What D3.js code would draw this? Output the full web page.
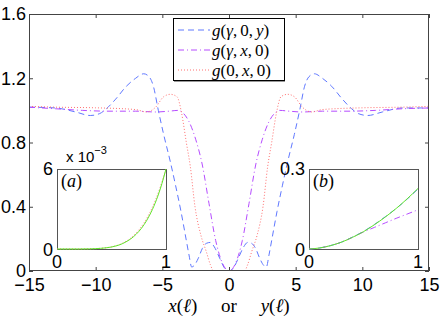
<!DOCTYPE html>
<html>
<head>
<meta charset="utf-8">
<script src="https://cdn.jsdelivr.net/npm/d3@7"></script>
<style>
body { margin: 0; background: #fff; }
svg { display: block; }
</style>
</head>
<body>
<svg id="chart"></svg>
<script>
var screen = {width: 443, height: 316};
var plot = {left: 29, right: 429, top: 14, bottom: 271};

// main panel: g(gamma,0,y)  (blue dashed)
var blueX = [-15, -13, -11.5, -10.4, -9.7, -9.2, -8.5, -7.7, -7, -6.4, -6, -5.67, -5.3, -4.9, -4.4, -4, -3.6, -3.2, -3, -2.8, -2.6, -2.3, -2, -1.7, -1.4, -1.1, -0.7, -0.35, 0,
             0.35, 0.7, 1.1, 1.4, 1.7, 2, 2.3, 2.6, 2.8, 3, 3.2, 3.6, 4, 4.4, 4.9, 5.3, 5.67, 6, 6.4, 7, 7.7, 8.5, 9.2, 9.7, 10.4, 11.5, 13, 15];
var blueY = [1.02, 1.015, 0.99, 0.968, 0.98, 1.01, 1.07, 1.15, 1.2, 1.228, 1.21, 1.15, 1.0, 0.85, 0.68, 0.53, 0.37, 0.19, 0.1, 0.025, 0.035, 0.08, 0.14, 0.172, 0.178, 0.15, 0.08, 0.02, 0,
             0.02, 0.08, 0.15, 0.178, 0.172, 0.14, 0.08, 0.035, 0.025, 0.1, 0.19, 0.37, 0.53, 0.68, 0.85, 1.0, 1.15, 1.21, 1.228, 1.2, 1.15, 1.07, 1.01, 0.98, 0.968, 0.99, 1.015, 1.015];

// g(gamma,x,0)  (purple dash-dot)
var purpleX = [-15, -13, -11, -9, -7, -5.5, -4.5, -3.8, -3.4, -3, -2.5, -2, -1.5, -1, -0.5, 0,
               0.5, 1, 1.5, 2, 2.5, 3, 3.4, 3.8, 4.5, 5.5, 7, 9, 11, 13, 15];
var purpleY = [1.02, 1.01, 1.0, 0.995, 0.995, 0.99, 0.995, 1.0, 0.98, 0.93, 0.82, 0.66, 0.42, 0.19, 0.05, 0,
               0.05, 0.19, 0.42, 0.66, 0.82, 0.93, 0.98, 1.0, 0.995, 0.99, 0.995, 0.995, 1.0, 1.01, 1.015];

// g(0,x,0)  (pink dotted)
var pinkX = [-15, -13, -10, -7, -6.2, -5.5, -4.9, -4.4, -3.9, -3.55, -3.2, -2.9, -2.55, -2.1, -1.7, -1.4, -1.15, 0,
             1.15, 1.4, 1.7, 2.1, 2.55, 2.9, 3.2, 3.55, 3.9, 4.4, 4.9, 5.5, 6.2, 7, 10, 13, 15];
var pinkY = [1.025, 1.02, 1.016, 1.005, 0.99, 1.02, 1.085, 1.1, 1.085, 0.98, 0.8, 0.65, 0.4, 0.22, 0.12, 0.04, 0, 0,
             0, 0.04, 0.12, 0.22, 0.4, 0.65, 0.8, 0.98, 1.085, 1.1, 1.085, 1.02, 0.99, 1.005, 1.016, 1.02, 1.025];

var xTicks = [-15, -10, -5, 0, 5, 10, 15];
var yTicks = [0, 0.4, 0.8, 1.2, 1.6];
var yTickLabels = ["0", "0.4", "0.8", "1.2", "1.6"];

// inset (a), values in units of 1e-3
var tA = [0, 0.1, 0.2, 0.3, 0.4, 0.5, 0.6, 0.7, 0.75, 0.8, 0.85, 0.9, 0.95, 1];
var greenA = [0, 0, 0, 0.01, 0.05, 0.15, 0.4, 0.91, 1.31, 1.84, 2.54, 3.43, 4.57, 6];
var pinkA = [0, 0, 0, 0.01, 0.05, 0.16, 0.43, 0.98, 1.42, 1.98, 2.7, 3.6, 4.7, 6];

// inset (b)
var tB = [0, 0.1, 0.2, 0.3, 0.4, 0.5, 0.6, 0.7, 0.8, 0.9, 1];
var greenB = [0, 0.004, 0.013, 0.026, 0.044, 0.065, 0.091, 0.12, 0.152, 0.188, 0.227];
var blueB = [0, 0.004, 0.013, 0.026, 0.045, 0.066, 0.092, 0.121, 0.152, 0.187, 0.225];
var purpleB = [0, 0.004, 0.013, 0.026, 0.044, 0.064, 0.081, 0.098, 0.115, 0.131, 0.147];

var legendNames = ["g(\u03b3,0,y)", "g(\u03b3,x,0)", "g(0,x,0)"];

var colors = {blue: "#5f78ff", purple: "#b64cff", pink: "#ff7070", green: "#5fe82a"};
var dashes = {blue: "6,4", purple: "6,3,1,3", pink: "1,2", green: null};

var sansFont = "'Liberation Sans', Arial, sans-serif";
var serifFont = "'Liberation Serif', 'DejaVu Serif', serif";

var svg = d3.select("#chart")
    .attr("width", screen.width)
    .attr("height", screen.height);

var xScale = d3.scaleLinear().domain([-15, 15]).range([plot.left, plot.right]);
var yScale = d3.scaleLinear().domain([0, 1.6]).range([plot.bottom, plot.top]);

var zip = function(xs, ys) { return xs.map(function(x, i) { return [x, ys[i]]; }); };

svg.append("clipPath").attr("id", "clipMain")
    .append("rect")
    .attr("x", plot.left).attr("y", plot.top)
    .attr("width", plot.right - plot.left).attr("height", plot.bottom - plot.top);

var drawLine = function(g, pts, xs, ys, key, width) {
    var line = d3.line()
        .x(function(d) { return xs(d[0]); })
        .y(function(d) { return ys(d[1]); })
        .curve(d3.curveMonotoneX);
    g.append("path")
        .datum(pts)
        .attr("fill", "none")
        .attr("stroke", colors[key])
        .attr("stroke-width", width || 1)
        .attr("stroke-dasharray", dashes[key])
        .attr("d", line);
};

// main curves
var curves = svg.append("g").attr("clip-path", "url(#clipMain)");
drawLine(curves, zip(blueX, blueY), xScale, yScale, "blue");
drawLine(curves, zip(purpleX, purpleY), xScale, yScale, "purple");
drawLine(curves, zip(pinkX, pinkY), xScale, yScale, "pink");

// axes, ticks pointing inwards on all four sides
var styleAxis = function(g) {
    g.select(".domain").remove();
    g.selectAll("line").attr("stroke", "#444");
    g.selectAll("text")
        .attr("font-family", sansFont)
        .attr("font-size", 18)
        .attr("fill", "#000");
};

svg.append("g")
    .attr("transform", "translate(0," + plot.bottom + ")")
    .call(d3.axisBottom(xScale).tickValues(xTicks).tickSize(-4).tickPadding(7))
    .call(styleAxis);
svg.append("g")
    .attr("transform", "translate(0," + plot.top + ")")
    .call(d3.axisTop(xScale).tickValues(xTicks).tickSize(-4).tickFormat(""))
    .call(styleAxis);
svg.append("g")
    .attr("transform", "translate(" + plot.left + ",0)")
    .call(d3.axisLeft(yScale).tickValues(yTicks).tickSize(-4).tickPadding(3)
        .tickFormat(function(d, i) { return yTickLabels[i]; }))
    .call(styleAxis);
svg.append("g")
    .attr("transform", "translate(" + plot.right + ",0)")
    .call(d3.axisRight(yScale).tickValues(yTicks).tickSize(-4).tickFormat(""))
    .call(styleAxis);

svg.append("rect")
    .attr("x", plot.left + 0.5).attr("y", plot.top + 0.5)
    .attr("width", plot.right - plot.left - 1).attr("height", plot.bottom - plot.top - 1)
    .attr("fill", "none").attr("stroke", "#444");

// x axis label: x(l)  or  y(l)
var xl = svg.append("text")
    .attr("x", 229).attr("y", 312)
    .attr("text-anchor", "middle")
    .attr("font-family", serifFont)
    .attr("font-size", 19);
xl.append("tspan").attr("font-style", "italic").text("x");
xl.append("tspan").text("(");
xl.append("tspan").attr("font-style", "italic").text("\u2113");
xl.append("tspan").text(")\u2003 or \u2003");
xl.append("tspan").attr("font-style", "italic").text("y");
xl.append("tspan").text("(");
xl.append("tspan").attr("font-style", "italic").text("\u2113");
xl.append("tspan").text(")");

// legend
var legend = svg.append("g").attr("id", "legend");
legend.append("rect")
    .attr("x", 173.5).attr("y", 18.5).attr("width", 111).attr("height", 62)
    .attr("fill", "#fff").attr("stroke", "#000");
legend.append("line")
    .attr("x1", 174).attr("x2", 285).attr("y1", 81.5).attr("y2", 81.5)
    .attr("stroke", "#999");

var legendKeys = ["blue", "purple", "pink"];
var mathText = function(sel, s) {
    var afterComma = false;
    s.split("").forEach(function(ch) {
        var it = /[a-z\u03b3]/.test(ch);
        var sp = sel.append("tspan")
            .attr("font-style", it ? "italic" : "normal")
            .text(ch);
        if (afterComma) sp.attr("dx", 3);
        afterComma = (ch === ",");
    });
};
legendKeys.forEach(function(k, i) {
    var y = 30 + i * 20;
    legend.append("line")
        .attr("x1", 178).attr("x2", 210).attr("y1", y).attr("y2", y)
        .attr("stroke", colors[k]).attr("stroke-width", 1)
        .attr("stroke-dasharray", dashes[k]);
    var t = legend.append("text")
        .attr("x", 212).attr("y", y + 6)
        .attr("font-family", serifFont)
        .attr("font-size", 17);
    mathText(t, legendNames[i]);
});

// insets
var drawInset = function(box, yMax, topLabel, tag, series) {
    var ix = d3.scaleLinear().domain([0, 1]).range([box.left, box.right]);
    var iy = d3.scaleLinear().domain([0, yMax]).range([box.bottom, box.top]);
    var g = svg.append("g");
    g.append("rect")
        .attr("x", box.left + 0.5).attr("y", box.top + 0.5)
        .attr("width", box.right - box.left).attr("height", box.bottom - box.top)
        .attr("fill", "#fff").attr("stroke", "#555");
    series.forEach(function(s) { drawLine(g, zip(s.t, s.v), ix, iy, s.key, s.w); });

    var lab = function(x, y, txt, anchor) {
        g.append("text").attr("x", x).attr("y", y)
            .attr("text-anchor", anchor)
            .attr("font-family", sansFont).attr("font-size", 18)
            .text(txt);
    };
    lab(box.left - 4, iy(yMax) + 6, topLabel, "end");
    lab(box.left - 4, iy(0) + 7, "0", "end");
    lab(ix(0), box.bottom + 19, "0", "middle");
    lab(ix(1), box.bottom + 19, "1", "middle");

    var tg = g.append("text")
        .attr("x", box.left + 4).attr("y", box.top + 18)
        .attr("font-family", serifFont).attr("font-size", 18);
    tg.append("tspan").text("(");
    tg.append("tspan").attr("font-style", "italic").text(tag);
    tg.append("tspan").text(")");
    return g;
};

var insetA = drawInset({left: 57, right: 166, top: 169, bottom: 249}, 6, "6", "a", [
    {t: tA, v: pinkA, key: "pink"},
    {t: tA, v: greenA, key: "green"}
]);
var expo = insetA.append("text")
    .attr("x", 66).attr("y", 162)
    .attr("font-family", sansFont).attr("font-size", 15);
expo.append("tspan").text("x 10");
expo.append("tspan").attr("dy", -8).attr("font-size", 11).text("\u22123");

drawInset({left: 309, right: 418, top: 169, bottom: 249}, 0.3, "0.3", "b", [
    {t: tB, v: blueB, key: "blue"},
    {t: tB, v: purpleB, key: "purple"},
    {t: tB, v: greenB, key: "green"}
]);
</script>
</body>
</html>
